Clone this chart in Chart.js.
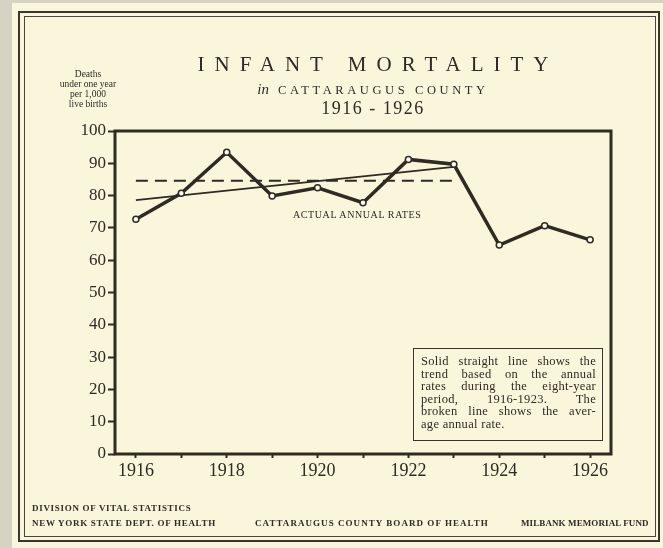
<!DOCTYPE html>
<html>
<head>
<meta charset="utf-8">
<script src="https://cdn.jsdelivr.net/npm/chart.js@4.4.1/dist/chart.umd.min.js"></script>
<style>
    html, body { margin: 0; padding: 0; }
    body {
        width: 663px; height: 548px; overflow: hidden; position: relative;
        background: #d6d2c4;
        font-family: "Liberation Serif", "DejaVu Serif", serif;
        color: #2e2a24;
    }
    #panel {
        position: absolute; left: 12px; top: 3px; width: 651px; height: 545px;
        background: #faf6dc;
    }
    #frameOuter {
        position: absolute; left: 18px; top: 11px; width: 638px; height: 527px;
        border: 2.5px solid #3a352e;
    }
    #frameInner {
        position: absolute; left: 24px; top: 16px; width: 630px; height: 519px;
        border: 1px solid #4a453d;
    }
    #chart { position: absolute; left: 0; top: 0; }
    .t { position: absolute; white-space: nowrap; }
    #title1 { left: 0; width: 756px; text-align: center; top: 52px; font-size: 21px; letter-spacing: 10px; }
    #title2 { left: 0; width: 746px; text-align: center; top: 81px; font-size: 12.5px; letter-spacing: 3.6px; }
    #title2 i { font-size: 15px; letter-spacing: 0; margin-right: 9px; }
    #title3 { left: 0; width: 746px; text-align: center; top: 98px; font-size: 18px; letter-spacing: 1.5px; }
    #unit { left: 46px; width: 84px; top: 69px; text-align: center; font-size: 9.5px; line-height: 10px; white-space: normal; }
    #actual { left: 293px; top: 209px; font-size: 10px; letter-spacing: 0.6px; }
    #note {
        position: absolute; left: 413px; top: 348px; width: 175px; height: 80px;
        border: 1.5px solid #3a352e; padding: 6px 6px 5px 7px;
        font-size: 12.5px; line-height: 12.6px; letter-spacing: 0.3px;
    }
    #note span { display: block; text-align: justify; text-align-last: justify; white-space: nowrap; }
    #note span.last { text-align-last: left; }
    .foot { font-size: 9px; font-weight: bold; letter-spacing: 0.7px; }
</style>
</head>
<body>
<div id="panel"></div>
<div id="frameOuter"></div>
<div id="frameInner"></div>
<canvas id="chart" width="663" height="548"></canvas>

<div class="t" id="title1">INFANT MORTALITY</div>
<div class="t" id="title2"><i>in</i>CATTARAUGUS COUNTY</div>
<div class="t" id="title3">1916 - 1926</div>
<div class="t" id="unit">Deaths<br>under one year<br>per 1,000<br>live births</div>
<div class="t" id="actual">ACTUAL ANNUAL RATES</div>
<div id="note">
    <span>Solid straight line shows the</span>
    <span>trend based on the annual</span>
    <span>rates during the eight-year</span>
    <span>period, 1916-1923. The</span>
    <span>broken line shows the aver-</span>
    <span class="last">age annual rate.</span>
</div>
<div class="t foot" style="left:32px; top:503px;">DIVISION OF VITAL STATISTICS</div>
<div class="t foot" style="left:32px; top:518px;">NEW YORK STATE DEPT. OF HEALTH</div>
<div class="t foot" style="left:255px; top:518px; letter-spacing:1.05px;">CATTARAUGUS COUNTY BOARD OF HEALTH</div>
<div class="t foot" style="left:521px; top:518px; letter-spacing:0.1px;">MILBANK MEMORIAL FUND</div>

<script>
// actual annual infant death rates per 1,000 live births
const years = [1916, 1917, 1918, 1919, 1920, 1921, 1922, 1923, 1924, 1925, 1926];
const rates = [72.7, 80.7, 93.4, 79.9, 82.4, 77.8, 91.2, 89.7, 64.7, 70.7, 66.3];

// straight trend line, 1916-1923
const trendYears = [1916, 1923];
const trendValues = [78.6, 88.9];

// broken line: average annual rate, 1916-1923
const avgYears = [1916, 1923];
const avgValues = [84.6, 84.6];

const yTicks = [0, 10, 20, 30, 40, 50, 60, 70, 80, 90, 100];

const ink = '#2e2a24';

function pairs(xs, ys) {
    return xs.map(function (x, i) { return {x: x, y: ys[i]}; });
}

// heavy frame round the plot area
const plotFrame = {
    id: 'plotFrame',
    afterDatasetsDraw: function (chart) {
        const a = chart.chartArea;
        const ctx = chart.ctx;
        ctx.save();
        ctx.strokeStyle = ink;
        ctx.lineWidth = 3;
        ctx.strokeRect(a.left, a.top, a.right - a.left, a.bottom - a.top);
        ctx.restore();
    }
};

new Chart(document.getElementById('chart').getContext('2d'), {
    type: 'line',
    data: {
        datasets: [
            {
                label: 'Trend',
                data: pairs(trendYears, trendValues),
                borderColor: ink,
                borderWidth: 1.8,
                pointRadius: 0,
                order: 2
            },
            {
                label: 'Average',
                data: pairs(avgYears, avgValues),
                borderColor: ink,
                borderWidth: 2.2,
                borderDash: [12, 7],
                pointRadius: 0,
                order: 3
            },
            {
                label: 'Actual annual rates',
                data: pairs(years, rates),
                borderColor: ink,
                borderWidth: 3.5,
                pointRadius: 3,
                pointBackgroundColor: '#fbf9ea',
                pointBorderColor: ink,
                pointBorderWidth: 1.5,
                order: 1
            }
        ]
    },
    options: {
        responsive: false,
        animation: false,
        events: [],
        layout: {padding: {left: 0, top: 131, right: 52, bottom: 0}},
        plugins: {
            legend: {display: false},
            tooltip: {enabled: false}
        },
        scales: {
            x: {
                type: 'linear',
                min: 1915.54,
                max: 1926.46,
                afterBuildTicks: function (scale) {
                    scale.ticks = years.map(function (v) { return {value: v}; });
                },
                afterFit: function (scale) { scale.height = 94; },
                border: {display: false},
                grid: {
                    drawOnChartArea: false,
                    drawTicks: true,
                    tickLength: 4,
                    tickWidth: 2,
                    tickColor: ink
                },
                ticks: {
                    autoSkip: false,
                    maxRotation: 0,
                    padding: 2,
                    color: ink,
                    font: {family: '"Liberation Serif", serif', size: 18},
                    callback: function (v) { return v % 2 === 0 ? String(v) : ''; }
                }
            },
            y: {
                min: 0,
                max: 100,
                afterBuildTicks: function (scale) {
                    scale.ticks = yTicks.map(function (v) { return {value: v}; });
                },
                afterFit: function (scale) { scale.width = 115; },
                border: {display: false},
                grid: {
                    drawOnChartArea: false,
                    drawTicks: true,
                    tickLength: 7,
                    tickWidth: 2,
                    tickColor: ink
                },
                ticks: {
                    padding: 2,
                    color: ink,
                    font: {family: '"Liberation Serif", serif', size: 17}
                }
            }
        }
    },
    plugins: [plotFrame]
});
</script>
</body>
</html>
